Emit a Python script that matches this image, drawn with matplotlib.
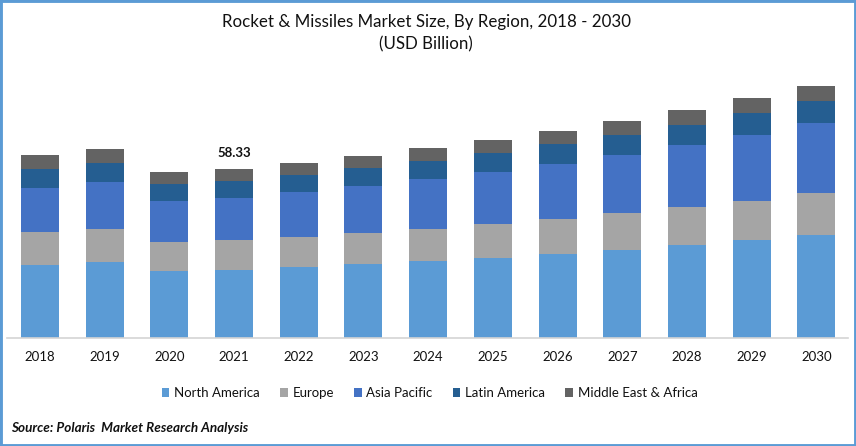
import matplotlib.pyplot as plt
from matplotlib.patches import Rectangle
import numpy as np

plt.rcParams['font.family'] = ['Lato', 'DejaVu Sans']

years = ['2018', '2019', '2020', '2021', '2022', '2023', '2024', '2025', '2026', '2027', '2028', '2029', '2030']
regions = ['North America', 'Europe', 'Asia Pacific', 'Latin America', 'Middle East & Africa']
colors = ['#5B9BD5', '#A5A5A5', '#4472C4', '#255E91', '#636363']

north_america = [25.2, 26.2, 23.1, 23.47, 24.5, 25.5, 26.6, 27.6, 29.0, 30.4, 32.1, 33.8, 35.6]
europe = [11.4, 11.4, 10.0, 10.35, 10.35, 10.7, 11.0, 11.7, 12.1, 12.8, 13.1, 13.5, 14.5]
asia_pacific = [15.2, 16.2, 14.2, 14.5, 15.5, 16.2, 17.3, 17.9, 19.0, 20.0, 21.4, 22.8, 24.2]
latin_america = [6.6, 6.6, 5.9, 5.87, 5.9, 6.2, 6.2, 6.6, 6.9, 6.9, 6.9, 7.6, 7.6]
middle_east = [4.8, 4.8, 4.1, 4.14, 4.1, 4.1, 4.5, 4.5, 4.5, 4.8, 5.2, 5.2, 5.2]
series = [north_america, europe, asia_pacific, latin_america, middle_east]

W, H = 856, 446
fig = plt.figure(figsize=(W / 100, H / 100), dpi=100)

# axes placed in pixels: baseline at y=338, from x=7 to x=848
ax = fig.add_axes([7 / W, (H - 338) / H, 841 / W, 268 / H])

x = np.arange(len(years))
bottom = np.zeros(len(years))
for name, vals, col in zip(regions, series, colors):
    ax.bar(x, vals, width=0.588, bottom=bottom, color=col, label=name)
    bottom += np.array(vals)

ax.set_xlim(-0.51, 12.49)
ax.set_ylim(0, 92.5)
ax.set_xticks(x, years)
ax.set_yticks([])
ax.tick_params(axis='x', length=0, pad=9.3, labelsize=9.5, labelcolor='#111111')
for s in ['top', 'left', 'right']:
    ax.spines[s].set_visible(False)
ax.spines['bottom'].set_color('#D4D4D4')
ax.spines['bottom'].set_linewidth(1.2)

# only 2021 gets a total label
ax.text(3, 58.33 + 3.5, '58.33', ha='center', va='bottom', fontsize=9.5,
        fontweight='bold', color='#111111')

fig.text(426 / W, 1 - 22 / H, 'Rocket & Missiles Market Size, By Region, 2018 - 2030',
         ha='center', va='center', fontsize=12.2, color='#111111')
fig.text(426 / W, 1 - 44 / H, '(USD Billion)', ha='center', va='center',
         fontsize=12.2, color='#111111')

handles, labels = ax.get_legend_handles_labels()
fig.legend(handles, labels, loc='center', bbox_to_anchor=(429.5 / W, 1 - 393 / H), ncols=5,
           frameon=False, fontsize=9.55, handlelength=0.6, handleheight=0.6,
           handletextpad=0.35, columnspacing=1.5, labelcolor='#111111')

fig.text(11 / W, 1 - 428.5 / H, 'Source: Polaris  Market Research Analysis', ha='left', va='center',
         fontsize=9.7, fontweight='bold', fontstyle='italic', color='#111111')

# blue frame round the picture
fig.add_artist(Rectangle((0, 0), 1, 1, transform=fig.transFigure, fill=False,
                         edgecolor='#5B9BD5', linewidth=3.5))

fig.savefig('out.png', dpi=100)
